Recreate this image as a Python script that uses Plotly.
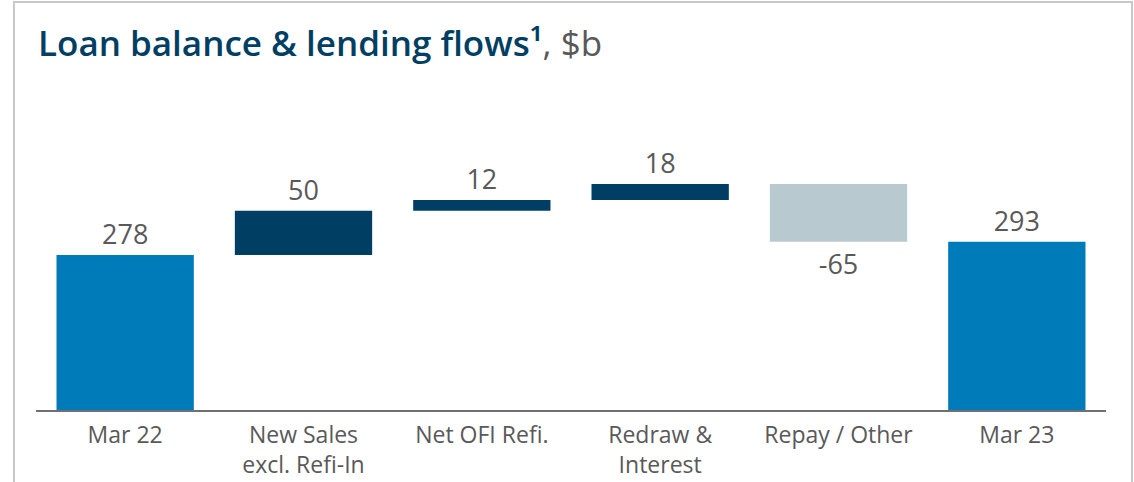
import plotly.graph_objects as go

# Données du graphique (en $b)
categories = ["Mar 22", "New Sales<br>excl. Refi-In", "Net OFI Refi.", "Redraw &<br>Interest", "Repay / Other", "Mar 23"]
flows = [278, 50, 12, 18, -65, 293]
measures = ["absolute", "relative", "relative", "relative", "relative", "total"]
labels = ["278", "50", "12", "18", "-65", "293"]

BLUE = "#007BB9"
NAVY = "#003F63"
GREY = "#B8C9D0"
TEXT = "#595959"

fig = go.Figure(go.Waterfall(
    x=categories,
    y=flows,
    measure=measures,
    text=labels,
    textposition="outside",
    textfont=dict(size=27, color=TEXT, family="Open Sans"),
    increasing=dict(marker=dict(color=NAVY)),
    decreasing=dict(marker=dict(color=GREY)),
    totals=dict(marker=dict(color=BLUE)),
    connector=dict(visible=False),
    hoverinfo="skip",
))

# Titre
fig.add_annotation(
    text="Loan balance &amp; lending flows¹<span style='color:#595959;font-weight:400'>, $b</span>",
    xref="paper", yref="paper", x=0, y=1, xanchor="left", yanchor="middle",
    yshift=58, showarrow=False,
    font=dict(size=35, color=NAVY, family="Open Sans", weight=600),
)

# Cadre
fig.add_shape(type="rect", xref="paper", yref="paper",
              x0=-0.0206, x1=1.0243, y0=-1, y1=1.316,
              line=dict(color="#C8C8C8", width=2), layer="below")

fig.update_layout(
    width=1134, height=482,
    margin=dict(l=36, r=28, t=100, b=72),
    paper_bgcolor="white", plot_bgcolor="white",
    showlegend=False,
    waterfallgap=0.23,
    font=dict(family="Open Sans", color=TEXT),
    xaxis=dict(showline=True, linecolor="#707070", linewidth=2, ticks="",
               tickfont=dict(size=23, color=TEXT), ticklabelstandoff=3,
               showgrid=False, automargin=False),
    yaxis=dict(visible=False, range=[103.35, 452.65], showgrid=False,
               zeroline=False, automargin=False),
)

fig.write_html("out.html", config={"displayModeBar": False},
               post_script="document.body.style.margin='0';")
